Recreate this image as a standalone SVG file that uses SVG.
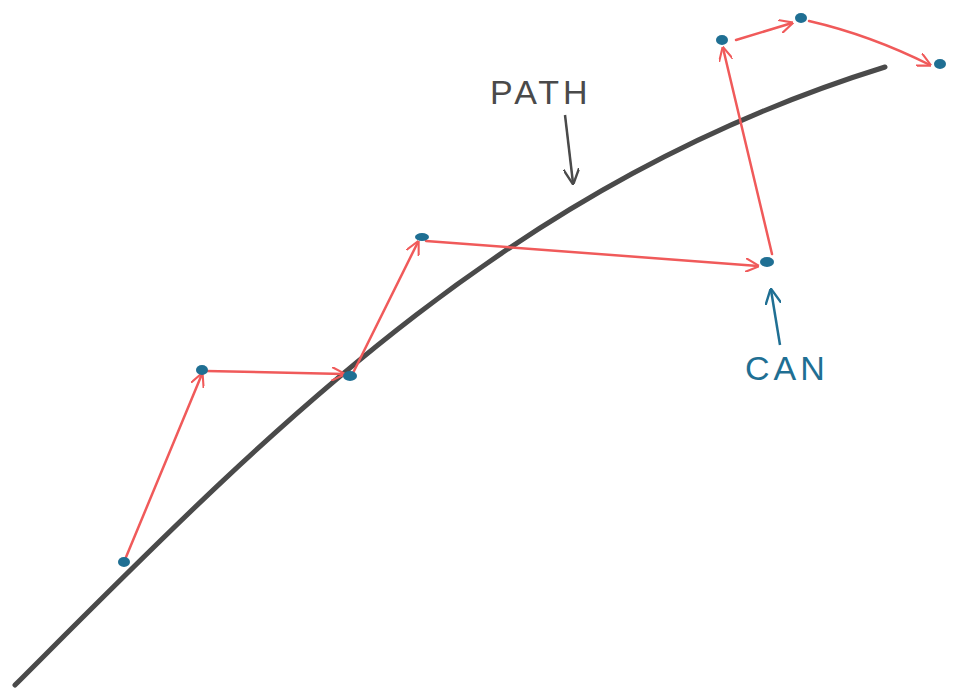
<svg xmlns="http://www.w3.org/2000/svg" width="960" height="697" viewBox="0 0 960 697">
<style>
.path{fill:none;stroke:#4a4a4a;stroke-width:5;stroke-linecap:round}
.r{fill:none;stroke:#f05a5a;stroke-width:2.5;stroke-linecap:round;marker-end:url(#ah)}
.dot{fill:#1f6f93}
.lbl{font-family:"Liberation Sans",sans-serif;font-size:34px;letter-spacing:4px}
</style>
<defs>
<marker id="ah" viewBox="0 0 10 10" refX="9" refY="5" markerWidth="14" markerHeight="14" markerUnits="userSpaceOnUse" orient="auto"><path d="M0,0 L10,5 L0,10" fill="none" stroke="#f05a5a" stroke-width="1.5"/></marker>
<marker id="ag" viewBox="0 0 10 10" refX="9" refY="5" markerWidth="16" markerHeight="16" markerUnits="userSpaceOnUse" orient="auto"><path d="M0,0 L10,5 L0,10" fill="none" stroke="#4a4a4a" stroke-width="1.5"/></marker>
<marker id="ab" viewBox="0 0 10 10" refX="9" refY="5" markerWidth="16" markerHeight="16" markerUnits="userSpaceOnUse" orient="auto"><path d="M0,0 L10,5 L0,10" fill="none" stroke="#1f6f93" stroke-width="1.5"/></marker>
</defs>
<path class="path" d="M15,685 C265,435 505,185 885,67"/>
<g id="connectors">
<path class="r" d="M124,562 L202,374"/>
<path class="r" d="M206,371 L344,374"/>
<path class="r" d="M352,375 L418,242"/>
<path class="r" d="M426,241 L758,266"/>
<path class="r" d="M772,254 L723,48"/>
<path class="r" d="M736,40 L792,23"/>
<path class="r" d="M809,21 Q870,35 930,65"/>
<path d="M565,115 L573,183" fill="none" stroke="#4a4a4a" stroke-width="2.5" marker-end="url(#ag)"/>
<path d="M780,345 L771,290" fill="none" stroke="#1f6f93" stroke-width="2.5" marker-end="url(#ab)"/>
</g>
<g id="dots">
<ellipse class="dot" cx="124" cy="562" rx="6" ry="5"/>
<ellipse class="dot" cx="202" cy="370" rx="6" ry="5"/>
<ellipse class="dot" cx="350" cy="376" rx="7" ry="5"/>
<ellipse class="dot" cx="422" cy="237" rx="7" ry="4"/>
<ellipse class="dot" cx="767" cy="262" rx="7" ry="5"/>
<ellipse class="dot" cx="722" cy="40" rx="6" ry="5"/>
<ellipse class="dot" cx="801" cy="18" rx="6" ry="5"/>
<ellipse class="dot" cx="940" cy="64" rx="6" ry="5"/>
</g>
<g id="label-path"><text class="lbl" x="490" y="104" fill="#4a4a4a">PATH</text></g>
<g id="label-can"><text class="lbl" x="745" y="380" fill="#1f6f93">CAN</text></g>
</svg>
